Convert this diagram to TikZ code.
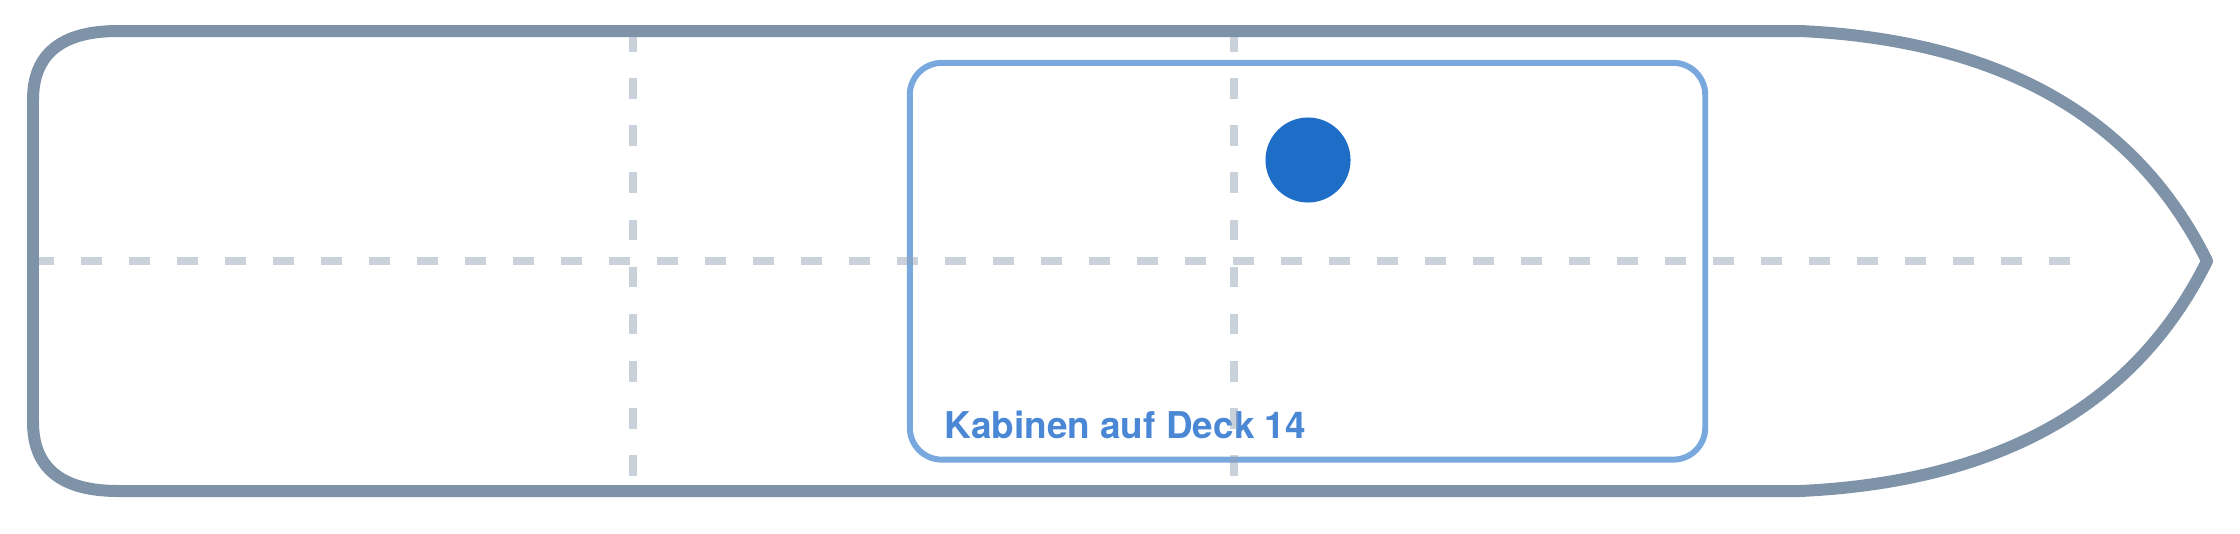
\documentclass[tikz,border=0pt]{standalone}
\usepackage{fontspec}
\setmainfont{TeX Gyre Heros}
\definecolor{hullc}{HTML}{7F93A8}
\definecolor{cabinc}{HTML}{78A8DE}
\definecolor{dotc}{HTML}{1E6EC8}
\definecolor{textc}{HTML}{4A88D6}
\definecolor{gridc}{HTML}{94A3B8}
\tikzset{
  hull/.style={draw=hullc, line width=3.41pt, line join=round},
  cabin/.style={draw=cabinc, line width=1.7pt, rounded corners=0.32cm, rectangle,
    minimum width=7.95cm, minimum height=3.965cm, inner sep=0pt},
  dot/.style={circle, fill=dotc, draw=none, minimum size=0.85cm, inner sep=0pt},
  lbl/.style={text=textc, font=\bfseries\fontsize{10.5pt}{12pt}\selectfont, inner sep=0pt},
  hgrid/.style={draw=gridc, draw opacity=0.5, line width=2.28pt, dash pattern=on 5.97pt off 7.68pt},
  vgrid/.style={draw=gridc, draw opacity=0.5, line width=2.28pt, dash pattern=on 5.89pt off 7.5pt}
}
\begin{document}
\begin{tikzpicture}[x=0.01cm, y=-0.01cm]
\useasboundingbox (0,0) rectangle (2240,533);
% cabin
\node[cabin] (cab) at (1307.5,261.25) {};
\node[dot] (pt) at (1308,160) {};
\node[lbl, anchor=base west] (lab) at (944,438.7) {Kabinen auf Deck 14};
% grid
\coordinate (h1) at (32.7,261);
\coordinate (h2) at (2070,261);
\coordinate (v1a) at (633,31.2);
\coordinate (v1b) at (633,476);
\coordinate (v2a) at (1234,31.2);
\coordinate (v2b) at (1234,476);
\draw[hgrid] (h1) -- (h2);
\draw[vgrid] (v1a) -- (v1b);
\draw[vgrid] (v2a) -- (v2b);
% hull
\draw[hull] (118,31) -- (1800,31)
  .. controls (2000,40.3) and (2135.7,117) .. (2207,261)
  .. controls (2135.7,405) and (2000,481.7) .. (1800,491)
  -- (118,491)
  .. controls (61.3,491) and (33,468) .. (33,422)
  -- (33,100)
  .. controls (33,54) and (61.3,31) .. (118,31) -- cycle;
\end{tikzpicture}
\end{document}
